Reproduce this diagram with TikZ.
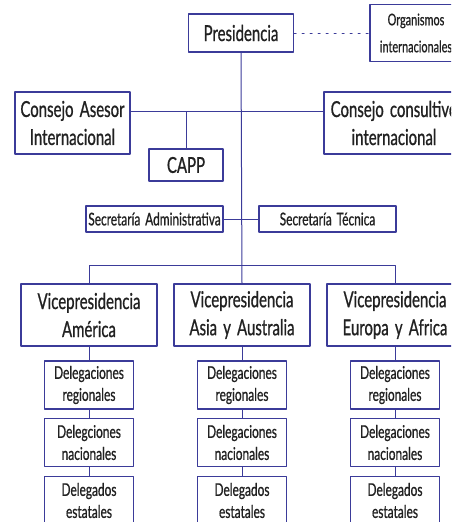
\documentclass[tikz,border=0pt]{standalone}
\usepackage{fontspec}
\setmainfont[FakeStretch=0.68,FakeBold=0.8,WordSpace=1.6]{Lato}
\usepackage{tikz}
\usetikzlibrary{calc}
\definecolor{ttttzz}{rgb}{0.23,0.23,0.6}
\definecolor{sqsqsq}{rgb}{0.13,0.13,0.13}
\tikzstyle{caja}=[draw=ttttzz,line width=1.3pt,text=sqsqsq,align=center,inner sep=0pt]
\tikzstyle{grande}=[font=\fontsize{22}{28}\selectfont]
\tikzstyle{media}=[font=\fontsize{17.5}{22}\selectfont]
\tikzstyle{chica}=[font=\fontsize{16}{27}\selectfont]
\tikzstyle{linea}=[line width=1pt,color=ttttzz]

\begin{document}
\begin{tikzpicture}[line cap=round,line join=round,x=1pt,y=-1pt]
\clip(0,0) rectangle (451,522);
\node[caja,grande,minimum width=105pt,minimum height=38pt] (pres) at (241,33) {Presidencia};
\node[caja,chica,minimum width=92pt,minimum height=57pt] (org) at (416,33) {Organismos\\internacionales};
\node[caja,grande,minimum width=115pt,minimum height=62pt] (asesor) at (72.5,123) {Consejo Asesor\\Internacional};
\node[caja,grande,minimum width=140pt,minimum height=62pt] (consul) at (394,123) {Consejo consultivo\\internacional};
\node[caja,grande,minimum width=74pt,minimum height=32pt] (capp) at (186,165) {CAPP};
\node[caja,media,minimum width=137pt,minimum height=26pt] (secadm) at (154.5,219) {Secretaría Administrativa};
\node[caja,media,minimum width=137pt,minimum height=26pt] (sectec) at (327.5,219) {Secretaría Técnica};
\node[caja,grande,minimum width=136pt,minimum height=62pt] (vpa) at (89,315) {Vicepresidencia\\América};
\node[caja,grande,minimum width=136pt,minimum height=62pt] (vpb) at (242,315) {Vicepresidencia\\Asia y Australia};
\node[caja,grande,minimum width=136pt,minimum height=62pt] (vpc) at (395,315) {Vicepresidencia\\Europa y Africa};
\node[caja,media,minimum width=89pt,minimum height=48pt] (rega) at (89,385) {Delegaciones\\regionales};
\node[caja,media,minimum width=89pt,minimum height=48pt] (regb) at (242,385) {Delegaciones\\regionales};
\node[caja,media,minimum width=89pt,minimum height=48pt] (regc) at (395,385) {Delegaciones\\regionales};
\node[caja,media,minimum width=89pt,minimum height=48pt] (naca) at (89,442.5) {Delegciones\\nacionales};
\node[caja,media,minimum width=89pt,minimum height=48pt] (nacb) at (242,442.5) {Delegaciones\\nacionales};
\node[caja,media,minimum width=89pt,minimum height=48pt] (nacc) at (395,442.5) {Delegaciones\\nacionales};
\node[caja,media,minimum width=89pt,minimum height=48pt] (esta) at (89,500.5) {Delegados\\estatales};
\node[caja,media,minimum width=89pt,minimum height=48pt] (estb) at (242,500.5) {Delegados\\estatales};
\node[caja,media,minimum width=89pt,minimum height=48pt] (estc) at (395,500.5) {Delegados\\estatales};
\coordinate (nudo) at ($(asesor.north east)!0.32!(asesor.south east)$);
\draw [linea,dash pattern=on 2pt off 6pt] (pres) -- (org);
\draw [linea] (nudo) -- ($(consul.north west)!0.32!(consul.south west)$);
\draw [linea] (capp.north) -- (capp.north |- nudo);
\draw [linea] (pres.south) -- (vpb.north);
\draw [linea] (secadm) -- (sectec);
\draw [linea] (vpa.north) -- ++(0,-18) -| (vpc.north);
\foreach \c in {a,b,c} {
\draw [linea] (vp\c.south) -- (reg\c.north);
\draw [linea] (reg\c.south) -- (nac\c.north);
\draw [linea] (nac\c.south) -- (est\c.north);
}
\end{tikzpicture}
\end{document}
